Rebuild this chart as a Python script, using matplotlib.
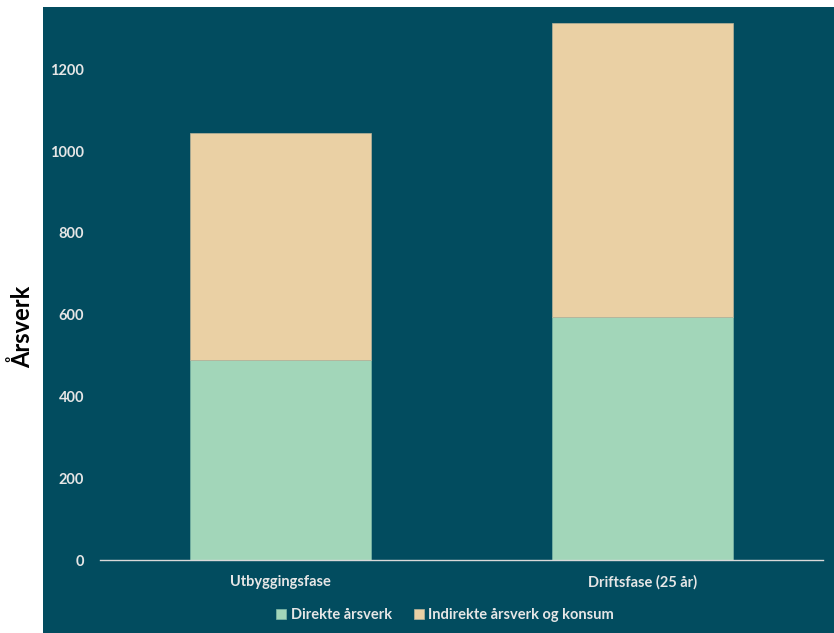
import matplotlib.pyplot as plt
from matplotlib.patches import Rectangle

categories = ["Utbyggingsfase", "Driftsfase (25 år)"]
direkte = [490, 595]
indirekte = [555, 717]
series_names = ["Direkte årsverk", "Indirekte årsverk og konsum"]
yticks = [0, 200, 400, 600, 800, 1000, 1200]

bg = "#024C5F"
green = "#A2D6B9"
tan = "#EAD0A4"
txt = "#E6E6E6"

plt.rcParams['font.family'] = ['Lato', 'DejaVu Sans']

fig = plt.figure(figsize=(8.34, 6.33), dpi=100, facecolor="white")
# teal chart panel
fig.patches.append(Rectangle((43 / 834, 0), 1 - 43 / 834, 1 - 7 / 633,
                             transform=fig.transFigure, facecolor=bg,
                             edgecolor="none", zorder=-5))

ax = fig.add_axes([100 / 834, 73 / 633, 723 / 834, 550 / 633])
ax.set_facecolor("none")
ax.set_zorder(1)

x = range(len(categories))
ax.bar(x, direkte, width=0.5, color=green, edgecolor="#7FB8A8", linewidth=0.5,
       label=series_names[0])
ax.bar(x, indirekte, width=0.5, bottom=direkte, color=tan, edgecolor="#B9B39A",
       linewidth=0.5, label=series_names[1])

ax.set_xlim(-0.5, 1.5)
ax.set_ylim(0, 1345)
ax.set_yticks(yticks)
ax.set_xticks(list(x))
ax.set_xticklabels(categories)
ax.tick_params(axis="both", length=0, colors=txt, labelsize=10.5)
ax.tick_params(axis="y", pad=11.5)
ax.tick_params(axis="x", pad=11)
for lab in ax.get_yticklabels() + ax.get_xticklabels():
    lab.set_fontweight("bold")

for s in ["top", "right", "left"]:
    ax.spines[s].set_visible(False)
ax.spines["bottom"].set_color("#D9D9D9")
ax.spines["bottom"].set_linewidth(1)

fig.text(22 / 834, 1 - 327 / 633, "Årsverk", rotation=90, ha="center",
         va="center", fontsize=17, fontweight="bold", color="black")

leg = fig.legend(loc="center", bbox_to_anchor=(445 / 834, 1 - 615 / 633),
                 ncol=2, frameon=False, fontsize=10.5, labelcolor=txt,
                 handlelength=0.7, handleheight=0.7, handletextpad=0.3,
                 columnspacing=1.5)
for t in leg.get_texts():
    t.set_fontweight("bold")

fig.savefig("out.png", dpi=100, facecolor="white")
